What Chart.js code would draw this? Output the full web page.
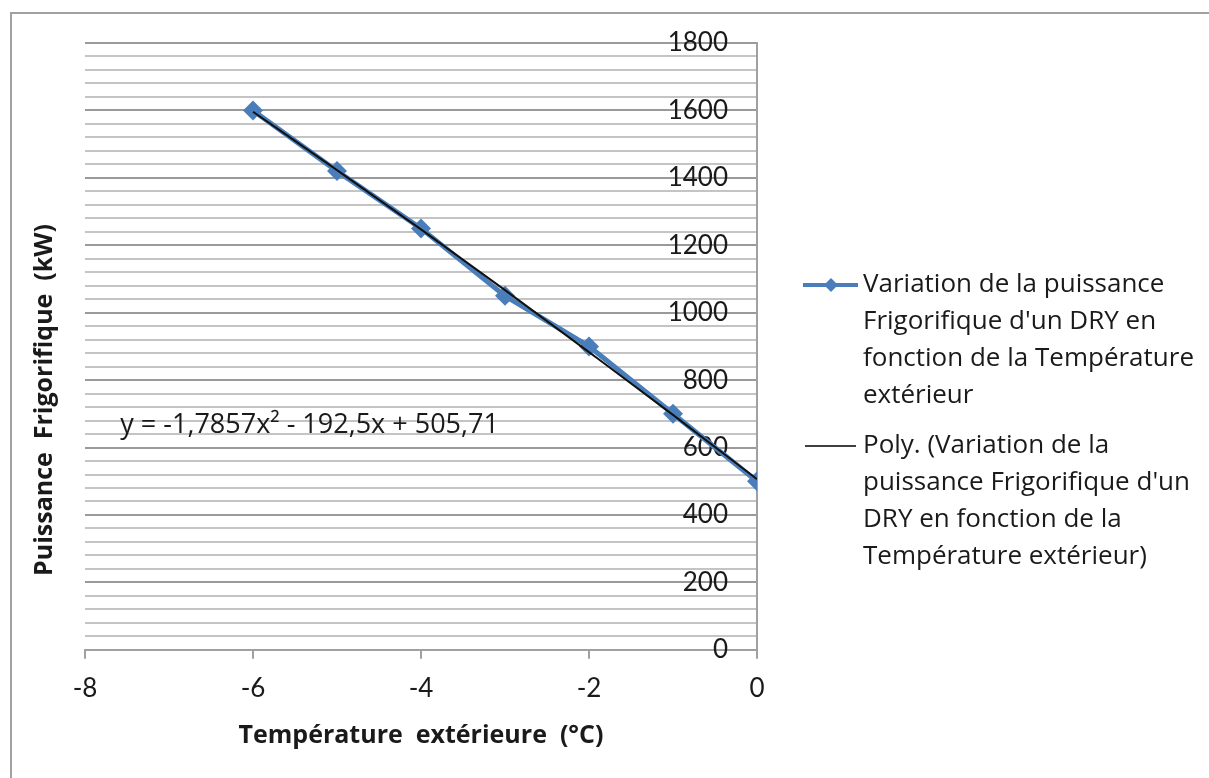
<!DOCTYPE html>
<html>
<head>
<meta charset="utf-8">
<script src="https://cdn.jsdelivr.net/npm/chart.js@4"></script>
<style>
  html, body { margin: 0; padding: 0; background: #fff; }
  #wrap { width: 1209px; height: 778px; position: relative; }
</style>
</head>
<body>
<div id="wrap"><canvas id="chart" width="1209" height="778"></canvas></div>
<script>
// data
const temps = [-6, -5, -4, -3, -2, -1, 0];
const puissance = [1600, 1420, 1250, 1050, 900, 700, 500];
// polynomial trend line (order 2)
const trendTemps = [-6, -5, -4, -3, -2, -1, 0];
const trendValues = [1596, 1423, 1247, 1067, 883, 697, 506];

const xTicks = [-8, -6, -4, -2, 0];
const yMax = 1800, yMinor = 40, yMajor = 200;
const equationText = 'y = -1,7857x\u00b2 - 192,5x + 505,71';
const legendSerie = ['Variation de la puissance', 'Frigorifique d\'un DRY en', 'fonction de la Température', 'extérieur'];
const legendTrend = ['Poly. (Variation de la', 'puissance Frigorifique d\'un', 'DRY en fonction de la', 'Température extérieur)'];
const yTitle = 'Puissance  Frigorifique  (kW)';
const xTitle = 'Température  extérieure  (°C)';

const comic = '"Comic Sans MS", "Open Sans", sans-serif';
const tickFont = 'Lato, "Open Sans", sans-serif';
const blue = '#4a7ebb';

const decor = {
    id: 'decor',
    beforeDraw(chart) {
        const ctx = chart.ctx;
        ctx.save();
        ctx.fillStyle = '#fff';
        ctx.fillRect(0, 0, chart.width, chart.height);
        ctx.strokeStyle = '#a0a0a0';
        ctx.lineWidth = 2;
        ctx.beginPath();
        ctx.moveTo(11, chart.height);
        ctx.lineTo(11, 13);
        ctx.lineTo(chart.width, 13);
        ctx.stroke();
        ctx.restore();
    },
    afterDraw(chart) {
        const ctx = chart.ctx;
        const xs = chart.scales.x, ys = chart.scales.y;
        ctx.save();
        // y axis title, on the left
        ctx.fillStyle = '#1a1a1a';
        ctx.font = 'bold 25px ' + comic;
        ctx.textAlign = 'center';
        ctx.textBaseline = 'middle';
        ctx.translate(45, 400);
        ctx.rotate(-Math.PI / 2);
        ctx.fillText(yTitle, 0, 0);
        ctx.restore();

        // equation of the trend line
        ctx.save();
        ctx.fillStyle = '#1a1a1a';
        ctx.font = '27px ' + comic;
        ctx.textBaseline = 'middle';
        ctx.fillText(equationText, xs.getPixelForValue(-7.58), ys.getPixelForValue(666));
        ctx.restore();

        // legend
        ctx.save();
        ctx.font = '26px ' + comic;
        ctx.fillStyle = '#1a1a1a';
        ctx.textBaseline = 'middle';
        const lx = 863, lh = 37;
        legendSerie.forEach((t, i) => ctx.fillText(t, lx, 285 + i * lh));
        legendTrend.forEach((t, i) => ctx.fillText(t, lx, 446 + i * lh));
        ctx.strokeStyle = blue;
        ctx.lineWidth = 4;
        ctx.beginPath();
        ctx.moveTo(803, 285);
        ctx.lineTo(858, 285);
        ctx.stroke();
        ctx.fillStyle = blue;
        ctx.beginPath();
        ctx.moveTo(831, 278);
        ctx.lineTo(838, 285);
        ctx.lineTo(831, 292);
        ctx.lineTo(824, 285);
        ctx.closePath();
        ctx.fill();
        ctx.strokeStyle = '#000';
        ctx.lineWidth = 1.5;
        ctx.beginPath();
        ctx.moveTo(805, 446);
        ctx.lineTo(856, 446);
        ctx.stroke();
        ctx.restore();
    }
};

const ctx = document.getElementById('chart').getContext('2d');
const myChart = new Chart(ctx, {
    type: 'scatter',
    data: {
        datasets: [{
            label: 'Variation de la puissance Frigorifique d\'un DRY en fonction de la Température extérieur',
            data: temps.map((t, i) => ({x: t, y: puissance[i]})),
            showLine: true,
            borderColor: blue,
            backgroundColor: blue,
            borderWidth: 5,
            pointStyle: 'rectRot',
            pointRadius: 10,
            pointBorderWidth: 0,
            order: 2
        }, {
            label: 'Poly.',
            data: trendTemps.map((t, i) => ({x: t, y: trendValues[i]})),
            showLine: true,
            borderColor: '#111',
            borderWidth: 2,
            pointRadius: 0,
            cubicInterpolationMode: 'monotone',
            order: 1
        }]
    },
    options: {
        responsive: false,
        animation: false,
        layout: {
            padding: {left: 85, right: 452, top: 43, bottom: 27}
        },
        scales: {
            x: {
                type: 'linear',
                position: 'bottom',
                min: -8,
                max: 0,
                afterBuildTicks: (scale) => { scale.ticks = xTicks.map(v => ({value: v})); },
                ticks: {
                    color: '#1a1a1a',
                    font: {family: tickFont, size: 26},
                    padding: 14
                },
                grid: {
                    drawOnChartArea: false,
                    drawTicks: true,
                    tickLength: 9,
                    color: '#a0a0a0',
                    lineWidth: 2
                },
                border: {color: '#a0a0a0', width: 2},
                title: {
                    display: true,
                    text: xTitle,
                    color: '#1a1a1a',
                    font: {family: comic, size: 25, weight: 'bold'},
                    padding: {top: 3, bottom: 0}
                }
            },
            y: {
                type: 'linear',
                position: 'right',
                min: 0,
                max: yMax,
                afterBuildTicks: (scale) => {
                    const t = [];
                    for (let v = 0; v <= yMax; v += yMinor) t.push({value: v});
                    scale.ticks = t;
                },
                ticks: {
                    autoSkip: false,
                    mirror: true,
                    padding: -29,
                    color: '#1a1a1a',
                    font: {family: tickFont, size: 26},
                    callback: (v) => (v % yMajor === 0 ? String(v) : '')
                },
                grid: {
                    drawTicks: false,
                    color: (c) => (c.tick && c.tick.value % yMajor === 0 ? '#9a9a9a' : '#c4c4c4'),
                    lineWidth: 2
                },
                border: {color: '#a0a0a0', width: 2}
            }
        },
        plugins: {
            legend: {display: false},
            tooltip: {enabled: false}
        }
    },
    plugins: [decor]
});
</script>
</body>
</html>
